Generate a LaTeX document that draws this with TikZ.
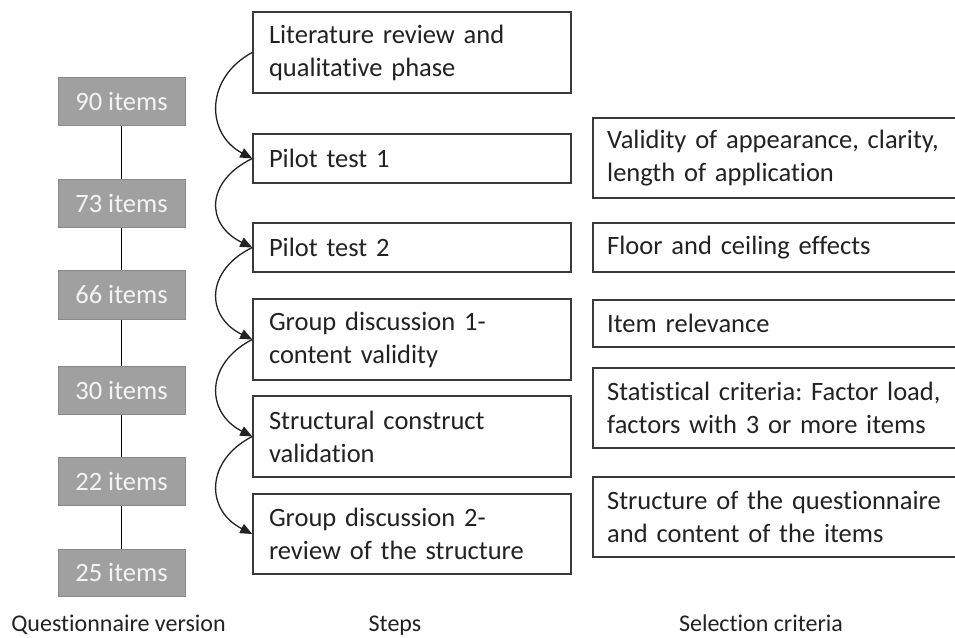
\documentclass[tikz,border=0pt]{standalone}
\usepackage{fontspec}
\setmainfont{Carlito}[Ligatures=NoCommon]
\usetikzlibrary{arrows.meta}
\frenchspacing
\definecolor{txt}{HTML}{222222}
\definecolor{bord}{HTML}{3A3A3A}
\definecolor{gfill}{HTML}{A0A0A0}
\definecolor{gbord}{HTML}{8A8A8A}
\definecolor{gtxt}{HTML}{F4F4F4}
\begin{document}
\frenchspacing
\begin{tikzpicture}[x=1pt,y=-1pt,
  gbox/.style={draw=gbord,line width=1pt,fill=gfill,text=gtxt,minimum width=127pt,inner sep=0pt,
    font=\fontsize{26.5}{33}\selectfont},
  stepbox/.style={draw=bord,line width=1.5pt,text=txt,text width=286pt,inner xsep=16pt,inner ysep=0pt,
    align=left,font=\fontsize{26.5}{33}\selectfont},
  critbox/.style={text=txt,text width=360pt,inner xsep=14pt,inner ysep=0pt,anchor=west,
    align=left,font=\fontsize{26.5}{33}\selectfont},
  critline/.style={draw=bord,line width=1.5pt},
  conn/.style={line width=1.5pt,black},
  curv/.style={line width=1.3pt,draw=txt,-{Triangle[length=12pt,width=10pt]}},
  lab/.style={text=txt,anchor=base,font=\fontsize{24}{28}\selectfont}]
\useasboundingbox (0,0) rectangle (955,637);
\fill[white] (0,0) rectangle (955,637);
% questionnaire versions
\node[gbox,minimum height=48pt] (q1) at (121.5,101) {90 items};
\node[gbox,minimum height=48pt] (q2) at (121.5,203) {73 items};
\node[gbox,minimum height=49pt] (q3) at (121.5,294.5) {66 items};
\node[gbox,minimum height=48pt] (q4) at (121.5,390) {30 items};
\node[gbox,minimum height=48pt] (q5) at (121.5,481) {22 items};
\node[gbox,minimum height=47pt] (q6) at (121.5,572.5) {25 items};
\draw[conn] (q1) -- (q2);
\draw[conn] (q2) -- (q3);
\draw[conn] (q3) -- (q4);
\draw[conn] (q4) -- (q5);
\draw[conn] (q5) -- (q6);
% steps
\node[stepbox,minimum height=81pt] (s1) at (412,52.5) {Literature review and\\qualitative phase};
\node[stepbox,minimum height=49pt] (s2) at (412,158.5) {Pilot test 1};
\node[stepbox,minimum height=49pt] (s3) at (412,247.5) {Pilot test 2};
\node[stepbox,minimum height=81pt] (s4) at (412,339.5) {Group discussion 1-\\content validity};
\node[stepbox,minimum height=81pt] (s5) at (412,436.5) {Structural construct\\validation};
\node[stepbox,minimum height=80pt] (s6) at (412,534) {Group discussion 2-\\review of the structure};
\draw[curv] (s1.west) .. controls +(-47,25) and +(-47,-25) .. (s2.west);
\draw[curv] (s2.west) .. controls +(-47,23) and +(-47,-23) .. (s3.west);
\draw[curv] (s3.west) .. controls +(-47,23) and +(-47,-23) .. (s4.west);
\draw[curv] (s4.west) .. controls +(-47,24) and +(-47,-24) .. (s5.west);
\draw[curv] (s5.west) .. controls +(-47,24) and +(-47,-24) .. (s6.west);
% selection criteria
\coordinate (redge) at (960,0);
\node[critbox,minimum height=80pt] (r1) at (593,158) {Validity of appearance, clarity,\\length of application};
\node[critbox,minimum height=49pt] (r2) at (593,247.5) {Floor and ceiling effects};
\node[critbox,minimum height=47pt] (r3) at (593,323.5) {Item relevance};
\node[critbox,minimum height=80pt] (r4) at (593,408) {Statistical criteria: Factor load,\\factors with 3 or more items};
\node[critbox,minimum height=80pt] (r5) at (593,517) {Structure of the questionnaire\\and content of the items};
\foreach \r in {r1,r2,r3,r4,r5}{
  \draw[critline] (\r.north west -| redge) -- (\r.north west) -- (\r.south west) -- (\r.south west -| redge);
}
% column labels
\node[lab] (l1) at (118.5,631) {Questionnaire version};
\node[lab] (l2) at (395,631) {Steps};
\node[lab] (l3) at (761,631) {Selection criteria};
\end{tikzpicture}
\end{document}
